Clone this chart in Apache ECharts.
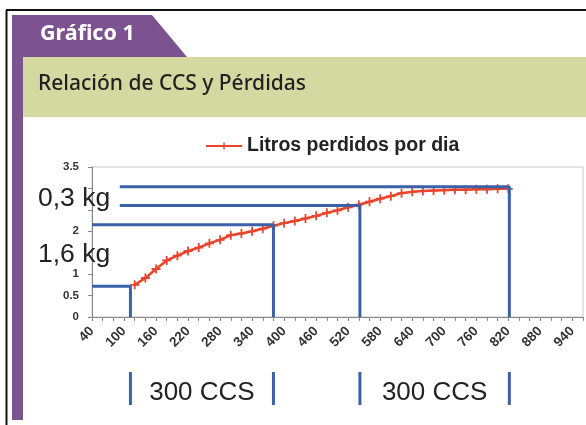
<!DOCTYPE html>
<html><head><meta charset="utf-8">
<script src="https://cdn.jsdelivr.net/npm/echarts@6/dist/echarts.min.js"></script>
<style>html,body{margin:0;padding:0;background:#fff}#c{width:586px;height:425px}</style>
</head><body><div id="c"></div>
<script>
// ---- data ----
const tabTitle = 'Gráfico 1';
const chartTitle = 'Relación de CCS y Pérdidas';
const legendName = 'Litros perdidos por dia';
const xValues = [120,140,160,180,200,220,240,260,280,300,320,340,360,380,400,420,440,460,480,500,520,540,560,580,600,620,640,660,680,700,720,740,760,780,800,820];
const litros  = [0.75,0.91,1.12,1.32,1.43,1.54,1.62,1.72,1.80,1.91,1.95,2.00,2.06,2.13,2.19,2.24,2.30,2.36,2.43,2.49,2.56,2.62,2.69,2.76,2.82,2.89,2.92,2.94,2.95,2.96,2.97,2.97,2.98,2.98,2.99,2.99];
const xAxisMin = 40, xAxisMax = 960, xLabelStep = 60;
const yShownLabels = ['0','0.5','1','2','3.5'];
const guideStartX = [40, 40, 92, 92];
const guideEndX   = [112, 380, 542, 822];
const guideY      = [0.72, 2.15, 2.60, 3.04];
const kgLabels  = ['0,3 kg', '1,6 kg'];
const ccsLabels = ['300 CCS', '300 CCS'];

// ---- chart ----
const purple = '#7d5291', green = '#d3d9a1', blue = '#3b61a8', red = '#e8452c';
const chart = echarts.init(document.getElementById('c'), null, {renderer: 'canvas'});
const starPath = 'path://M4,0 L6,0 L6,4 L10,4 L10,6 L6,6 L6,10 L4,10 L4,6 L0,6 L0,4 L4,4 Z';

const series = [{
  name: legendName, type: 'line', z: 2,
  data: xValues.map((x, i) => [x, litros[i]]),
  lineStyle: {color: red, width: 2.5},
  itemStyle: {color: red},
  symbol: starPath, symbolSize: 9, showSymbol: true
}];
guideY.forEach((y, i) => {
  series.push({
    name: 'g' + i, type: 'line', z: 4, symbol: 'none',
    data: [[guideStartX[i], y], [guideEndX[i], y], [guideEndX[i], 0]],
    lineStyle: {color: blue, width: 3}
  });
});

chart.setOption({
  animation: false,
  backgroundColor: '#fff',
  grid: {left: 92, top: 167, width: 491, height: 150, show: true, borderColor: '#c8c8c8', borderWidth: 1, backgroundColor: 'transparent'},
  legend: {
    data: [legendName], left: 200, top: 131, itemWidth: 36, itemHeight: 9, itemGap: 5,
    textStyle: {fontFamily: 'Liberation Sans', fontWeight: 'bold', fontSize: 19.5, color: '#222'}
  },
  xAxis: {
    type: 'value', min: xAxisMin, max: xAxisMax, interval: xLabelStep,
    axisLine: {show: true, lineStyle: {color: '#888', width: 1}},
    axisTick: {show: true, inside: false, length: 4, lineStyle: {color: '#888'}},
    minorTick: {show: true, splitNumber: 3, length: 4, lineStyle: {color: '#888'}},
    splitLine: {show: false},
    axisLabel: {rotate: 45, margin: 12, showMaxLabel: false, fontFamily: 'Liberation Sans', fontWeight: 'bold', fontSize: 13.5, color: '#333'}
  },
  yAxis: {
    type: 'value', min: 0, max: 3.5, interval: 0.5,
    axisLine: {show: true, lineStyle: {color: '#888', width: 1}},
    axisTick: {show: true, inside: false, length: 4, lineStyle: {color: '#888'}},
    splitLine: {show: false},
    axisLabel: {margin: 13, fontFamily: 'Liberation Sans', fontWeight: 'bold', fontSize: 11.5, color: '#333',
      formatter: v => { const s = String(v); return yShownLabels.indexOf(s) >= 0 ? s : ''; }}
  },
  series: series
});

// ---- decorations, positioned through the axes where they relate to data ----
const g = [];
g.push({type: 'rect', z: -10, shape: {x: 0, y: 0, width: 586, height: 425}, style: {fill: '#fff'}});
g.push({type: 'rect', z: -5, shape: {x: 23, y: 57, width: 563, height: 60}, style: {fill: green}});
g.push({type: 'rect', z: -5, shape: {x: 12, y: 15, width: 11, height: 405}, style: {fill: purple}});
g.push({type: 'polygon', z: -5, shape: {points: [[12, 15], [152, 15], [187, 57], [12, 57]]}, style: {fill: purple}});
g.push({type: 'line', z: -4, shape: {x1: 6, y1: 10, x2: 586, y2: 10}, style: {stroke: '#111', lineWidth: 2}});
g.push({type: 'line', z: -4, shape: {x1: 6.5, y1: 10, x2: 6.5, y2: 425}, style: {stroke: '#111', lineWidth: 2}});
g.push({type: 'text', z: 10, x: 40, y: 23, style: {text: tabTitle, fill: '#fff', fontFamily: 'Noto Sans', fontWeight: 'bold', fontSize: 21.5, verticalAlign: 'top'}});
g.push({type: 'text', z: 10, x: 38, y: 74, style: {text: chartTitle, fill: '#231f20', fontFamily: 'Noto Sans', fontWeight: 500, fontSize: 21, verticalAlign: 'top'}});
g.push({type: 'text', z: 10, x: 38, y: 185, style: {text: kgLabels[0], fill: '#222', fontFamily: 'Liberation Sans', fontSize: 26.5, verticalAlign: 'top'}});
g.push({type: 'text', z: 10, x: 38, y: 241, style: {text: kgLabels[1], fill: '#222', fontFamily: 'Liberation Sans', fontSize: 26.5, verticalAlign: 'top'}});

const px = guideEndX.map(x => chart.convertToPixel({xAxisIndex: 0}, x));
px.forEach(x => {
  g.push({type: 'rect', z: 10, shape: {x: x - 1.5, y: 372, width: 3, height: 33}, style: {fill: blue}});
});
for (let i = 0; i < 2; i++) {
  const cx = (px[2 * i] + px[2 * i + 1]) / 2;
  g.push({type: 'text', z: 10, x: cx, y: 380, style: {text: ccsLabels[i], fill: '#222', fontFamily: 'Liberation Sans', fontSize: 26, align: 'center', verticalAlign: 'top'}});
}
chart.setOption({graphic: g});
</script>
</body></html>
